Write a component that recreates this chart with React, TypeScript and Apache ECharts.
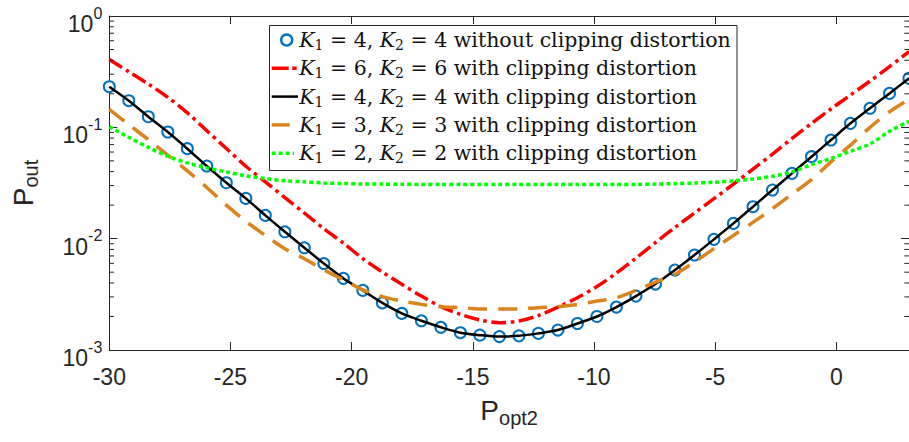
import React, { useEffect, useRef } from "react";
import * as echarts from "echarts";

// ---- data ----
const pOpt2 = [
  -30, -29.195, -28.39, -27.585, -26.78, -25.976, -25.171, -24.366, -23.561, -22.756,
  -21.951, -21.146, -20.341, -19.537, -18.732, -17.927, -17.122, -16.317, -15.512, -14.707,
  -13.902, -13.098, -12.293, -11.488, -10.683, -9.878, -9.073, -8.268, -7.463, -6.659,
  -5.854, -5.049, -4.244, -3.439, -2.634, -1.829, -1.024, -0.22, 0.585, 1.39, 2.195, 3.0,
];

const k4NoClip = [
  0.2317, 0.1734, 0.1245, 0.0908, 0.0643, 0.0449, 0.0318, 0.023, 0.0162, 0.01153,
  0.00828, 0.00598, 0.0044, 0.00343, 0.00265, 0.00213, 0.00183, 0.0016, 0.00143, 0.00136,
  0.00132, 0.00134, 0.00141, 0.00151, 0.00173, 0.002, 0.00243, 0.00305, 0.00391, 0.00522,
  0.00713, 0.00986, 0.01371, 0.01936, 0.02735, 0.0386, 0.0545, 0.0769, 0.1086, 0.1483, 0.2018, 0.2754,
];

const k6Clip = [
  0.407, 0.316, 0.245, 0.186, 0.135, 0.0933, 0.0646, 0.0447, 0.0324, 0.0234,
  0.017, 0.0123, 0.00912, 0.00661, 0.00501, 0.00389, 0.00305, 0.00245, 0.00209, 0.00186,
  0.00176, 0.00182, 0.00204, 0.00243, 0.00295, 0.00372, 0.0049, 0.00668, 0.00923, 0.0126,
  0.017, 0.0229, 0.0309, 0.0422, 0.0575, 0.0794, 0.1084, 0.1462, 0.195, 0.26, 0.351, 0.479,
];

const k4Clip = [
  0.2317, 0.1734, 0.1245, 0.0908, 0.0643, 0.0449, 0.0318, 0.023, 0.0162, 0.01153,
  0.00828, 0.00598, 0.0044, 0.00343, 0.00265, 0.00213, 0.00183, 0.0016, 0.00143, 0.00136,
  0.00132, 0.00134, 0.00141, 0.00151, 0.00173, 0.002, 0.00243, 0.00305, 0.00391, 0.00522,
  0.00713, 0.00986, 0.01371, 0.01936, 0.02735, 0.0386, 0.0545, 0.0769, 0.1086, 0.1483, 0.2018, 0.2754,
];

const k3Clip = [
  0.145, 0.1057, 0.0776, 0.0562, 0.0407, 0.0288, 0.02, 0.0143, 0.0107, 0.00813,
  0.00661, 0.00525, 0.00427, 0.00347, 0.00302, 0.00275, 0.00257, 0.00245, 0.0024, 0.00234,
  0.00233, 0.00234, 0.0024, 0.00245, 0.00257, 0.00275, 0.00295, 0.00343, 0.00407, 0.00479,
  0.00617, 0.00813, 0.0107, 0.014, 0.0186, 0.0251, 0.0339, 0.049, 0.0692, 0.1, 0.138, 0.178,
];

const k2Clip = [
  0.1014, 0.0813, 0.0661, 0.055, 0.0479, 0.0432, 0.0398, 0.0367, 0.0347, 0.0331,
  0.0324, 0.0316, 0.0313, 0.031, 0.0309, 0.0308, 0.0307, 0.0307, 0.0306, 0.0306,
  0.0306, 0.0306, 0.0306, 0.0306, 0.0306, 0.0306, 0.0306, 0.0307, 0.0309, 0.0312,
  0.0316, 0.0321, 0.0331, 0.0344, 0.0363, 0.0398, 0.0462, 0.0525, 0.061, 0.0708, 0.092, 0.1135,
];

const xTicks = { min: -30, max: 3, step: 5 };
const yMinorTicks = [
  0.002, 0.003, 0.004, 0.005, 0.006, 0.007, 0.008, 0.009,
  0.02, 0.03, 0.04, 0.05, 0.06, 0.07, 0.08, 0.09,
  0.2, 0.3, 0.4, 0.5, 0.6, 0.7, 0.8, 0.9,
];

const legendLabels = [
  { k1: "4", k2: "4", tail: "without clipping distortion" },
  { k1: "6", k2: "6", tail: "with clipping distortion" },
  { k1: "4", k2: "4", tail: "with clipping distortion" },
  { k1: "3", k2: "3", tail: "with clipping distortion" },
  { k1: "2", k2: "2", tail: "with clipping distortion" },
];

const AXIS_COLOR = "#262626";
const SANS = "Liberation Sans, Arial, Helvetica, sans-serif";
const SERIF = "DejaVu Serif, Liberation Serif, serif";

const C_BLUE = "#0072BD";
const C_RED = "#FF0000";
const C_BLACK = "#000000";
const C_ORANGE = "#DB841C";
const C_GREEN = "#00FF00";

const RED_DASH = [15, 4.5, 3.5, 4.5];
const ORANGE_DASH = [19, 11];
const GREEN_DASH = [4, 3];

function pairs(ys: number[]) {
  return ys.map((y, i) => [pOpt2[i], y]);
}

export default function App() {
  const ref = useRef<HTMLDivElement>(null);

  useEffect(() => {
    if (!ref.current) return;
    const chart = echarts.init(ref.current, undefined, { renderer: "svg" });

    const legX0 = 269.5;
    const legY0 = 25.5;
    const rowY = (i: number) => 40 + i * 28.3;
    const iconX1 = 271.7;
    const iconX2 = 298;
    const textX = 299.3;

    const legendChildren: any[] = [
      {
        type: "rect",
        z: 100,
        shape: { x: legX0, y: legY0, width: 467.5, height: 145 },
        style: { fill: "#ffffff", stroke: AXIS_COLOR, lineWidth: 1 },
      },
      {
        type: "circle",
        z: 101,
        shape: { cx: 286.7, cy: rowY(0), r: 5.5 },
        style: { fill: "none", stroke: C_BLUE, lineWidth: 2.4 },
      },
      {
        type: "line",
        z: 101,
        shape: { x1: iconX1, y1: rowY(1), x2: iconX2, y2: rowY(1) },
        style: { stroke: C_RED, lineWidth: 3.5, lineDash: [17, 3.5, 4.5, 4] },
      },
      {
        type: "line",
        z: 101,
        shape: { x1: iconX1, y1: rowY(2), x2: iconX2, y2: rowY(2) },
        style: { stroke: C_BLACK, lineWidth: 2.5 },
      },
      {
        type: "line",
        z: 101,
        shape: { x1: iconX1, y1: rowY(3), x2: iconX2, y2: rowY(3) },
        style: { stroke: C_ORANGE, lineWidth: 3.5, lineDash: [18, 12] },
      },
      {
        type: "line",
        z: 101,
        shape: { x1: iconX1, y1: rowY(4), x2: 294, y2: rowY(4) },
        style: { stroke: C_GREEN, lineWidth: 3.5, lineDash: GREEN_DASH },
      },
    ];
    legendLabels.forEach((l, i) => {
      legendChildren.push({
        type: "text",
        z: 101,
        x: textX,
        y: rowY(i),
        style: {
          text: `{i|K}{d|1}{n| = ${l.k1}, }{i|K}{d|2}{n| = ${l.k2} ${l.tail}}`,
          verticalAlign: "middle",
          align: "left",
          fill: "#111111",
          rich: {
            i: { fontFamily: SERIF, fontStyle: "italic", fontSize: 20.5, fill: "#111111" },
            d: { fontFamily: SERIF, fontSize: 14, fill: "#111111", padding: [10, 0, 0, 0] },
            n: { fontFamily: SERIF, fontSize: 20.5, fill: "#111111" },
          },
        },
      });
    });

    const lineCommon = {
      type: "line",
      showSymbol: false,
      symbol: "none",
      smooth: 0.3,
      xAxisIndex: 0,
      yAxisIndex: 0,
      silent: true,
    };

    const option: any = {
      animation: false,
      backgroundColor: "#ffffff",
      grid: { left: 109.3, right: -4, top: 16, bottom: 92, containLabel: false },
      xAxis: [
        {
          type: "value",
          min: xTicks.min,
          max: xTicks.max,
          interval: xTicks.step,
          position: "bottom",
          axisLine: { show: true, onZero: false, lineStyle: { color: AXIS_COLOR, width: 1 } },
          axisTick: { show: true, inside: true, length: 8, lineStyle: { color: AXIS_COLOR } },
          axisLabel: {
            fontSize: 23,
            color: AXIS_COLOR,
            fontFamily: SANS,
            margin: 15,
            showMaxLabel: false,
          },
          splitLine: { show: false },
          name: "{p|P}{s|opt2}",
          nameLocation: "middle",
          nameGap: 42,
          nameTextStyle: {
            rich: {
              p: { fontSize: 28, fontFamily: SANS, color: AXIS_COLOR },
              s: { fontSize: 20, fontFamily: SANS, color: AXIS_COLOR, padding: [16, 0, 0, 0] },
            },
          },
        },
        {
          type: "value",
          min: xTicks.min,
          max: xTicks.max,
          interval: xTicks.step,
          position: "top",
          axisLine: { show: true, onZero: false, lineStyle: { color: AXIS_COLOR, width: 1 } },
          axisTick: { show: true, inside: true, length: 8, lineStyle: { color: AXIS_COLOR } },
          axisLabel: { show: false },
          splitLine: { show: false },
        },
      ],
      yAxis: [
        {
          type: "log",
          logBase: 10,
          min: 0.001,
          max: 1,
          position: "left",
          axisLine: { show: true, onZero: false, lineStyle: { color: AXIS_COLOR, width: 1 } },
          axisTick: { show: true, inside: true, length: 8, lineStyle: { color: AXIS_COLOR } },
          splitLine: { show: false },
          axisLabel: {
            margin: 7,
            formatter: (v: number) => `{b|10}{s|${Math.round(Math.log10(v))}}`,
            rich: {
              b: { fontSize: 23, fontFamily: SANS, color: AXIS_COLOR, padding: [16, 0, 0, 0] },
              s: { fontSize: 16, fontFamily: SANS, color: AXIS_COLOR, padding: [0, 0, 6, 0] },
            },
          },
          name: "{p|P}{s|out}",
          nameLocation: "middle",
          nameRotate: 90,
          nameGap: 68,
          nameTextStyle: {
            rich: {
              p: { fontSize: 28, fontFamily: SANS, color: AXIS_COLOR },
              s: { fontSize: 20, fontFamily: SANS, color: AXIS_COLOR, padding: [16, 0, 0, 0] },
            },
          },
        },
        {
          type: "log",
          logBase: 10,
          min: 0.001,
          max: 1,
          position: "right",
          axisLine: { show: true, onZero: false, lineStyle: { color: AXIS_COLOR, width: 1 } },
          axisTick: { show: true, inside: true, length: 8, lineStyle: { color: AXIS_COLOR } },
          axisLabel: { show: false },
          splitLine: { show: false },
        },
      ],
      series: [
        {
          type: "line",
          name: "K1=4,K2=4 without clipping",
          data: pairs(k4NoClip),
          symbol: "emptyCircle",
          symbolSize: 11,
          showSymbol: true,
          lineStyle: { width: 0, opacity: 0 },
          itemStyle: { color: C_BLUE, borderColor: C_BLUE, borderWidth: 2.4 },
          silent: true,
          z: 2,
        },
        {
          ...lineCommon,
          name: "K1=6,K2=6 with clipping",
          data: pairs(k6Clip),
          lineStyle: { color: C_RED, width: 3.5, type: RED_DASH, cap: "butt" },
          z: 3,
        },
        {
          ...lineCommon,
          name: "K1=4,K2=4 with clipping",
          data: pairs(k4Clip),
          lineStyle: { color: C_BLACK, width: 2.5, type: "solid" },
          z: 4,
        },
        {
          ...lineCommon,
          name: "K1=3,K2=3 with clipping",
          data: pairs(k3Clip),
          lineStyle: { color: C_ORANGE, width: 3.5, type: ORANGE_DASH, cap: "butt" },
          z: 5,
        },
        {
          ...lineCommon,
          name: "K1=2,K2=2 with clipping",
          data: pairs(k2Clip),
          lineStyle: { color: C_GREEN, width: 3.5, type: GREEN_DASH, cap: "butt" },
          z: 6,
        },
        {
          type: "custom",
          name: "minor ticks",
          silent: true,
          z: 10,
          data: yMinorTicks.map((v) => [xTicks.min, v]),
          encode: { x: 0, y: 1 },
          renderItem: (params: any, api: any) => {
            const v = api.value(1);
            const pl = api.coord([xTicks.min, v]);
            const pr = api.coord([xTicks.max, v]);
            return {
              type: "group",
              children: [
                {
                  type: "line",
                  shape: { x1: pl[0], y1: pl[1], x2: pl[0] + 4.7, y2: pl[1] },
                  style: { stroke: AXIS_COLOR, lineWidth: 1 },
                },
                {
                  type: "line",
                  shape: { x1: pr[0], y1: pr[1], x2: pr[0] - 4.7, y2: pr[1] },
                  style: { stroke: AXIS_COLOR, lineWidth: 1 },
                },
              ],
            };
          },
        },
      ],
      graphic: [{ type: "group", z: 100, children: legendChildren }],
    };

    chart.setOption(option);
    return () => chart.dispose();
  }, []);

  return (
    <div
      ref={ref}
      style={{ position: "absolute", left: 0, top: 0, width: 909, height: 442, background: "#fff" }}
    />
  );
}
